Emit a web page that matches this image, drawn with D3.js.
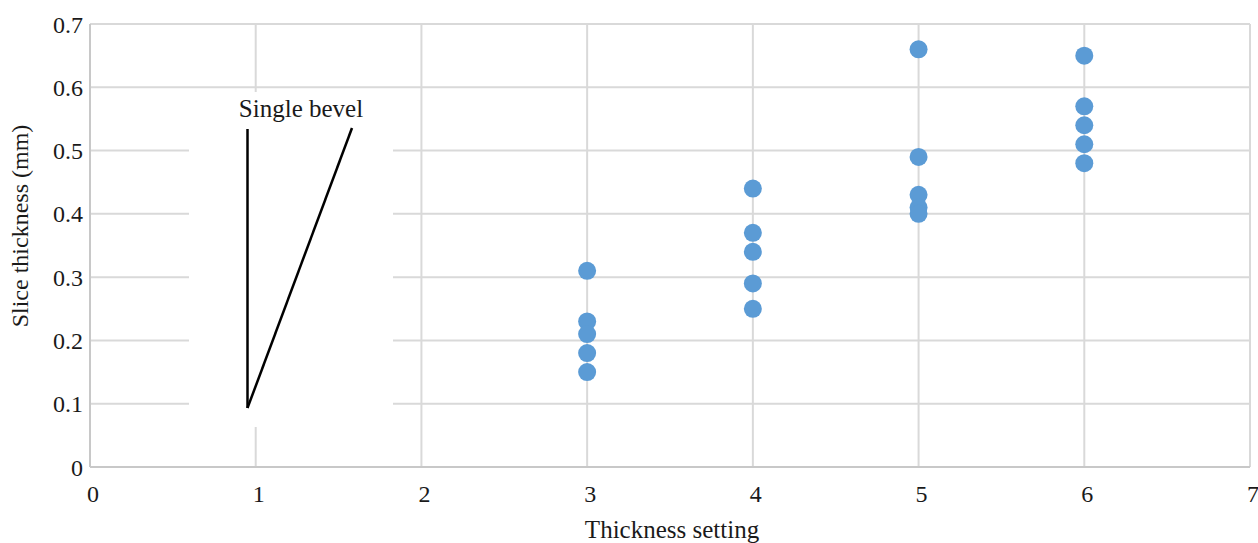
<!DOCTYPE html>
<html>
<head>
<meta charset="utf-8">
<script src="https://cdn.jsdelivr.net/npm/d3@7"></script>
<style>
  body { margin: 0; background: #fff; }
  text { font-family: "Liberation Serif", "Times New Roman", serif; fill: #1a1a1a; }
</style>
</head>
<body>
<div id="chart"></div>
<script>
// thickness settings and the measured slice thickness at each one
var settings = [3, 3, 3, 3, 3, 4, 4, 4, 4, 4, 5, 5, 5, 5, 5, 6, 6, 6, 6, 6];
var thickness = [0.31, 0.23, 0.21, 0.18, 0.15,
                 0.44, 0.37, 0.34, 0.29, 0.25,
                 0.66, 0.49, 0.43, 0.41, 0.40,
                 0.65, 0.57, 0.54, 0.51, 0.48];
var xTicks = [0, 1, 2, 3, 4, 5, 6, 7];
var yTicks = [0, 0.1, 0.2, 0.3, 0.4, 0.5, 0.6, 0.7];

(function() {
  var margin = { top: 24, left: 90, right: 8, bottom: 76 },
    width = 1258 - margin.left - margin.right,
    height = 543 - margin.top - margin.bottom;

  var svg = d3.select("#chart")
    .append("svg")
    .attr("width", 1258)
    .attr("height", 543)
    .append("g")
    .attr("transform", "translate(" + margin.left + "," + margin.top + ")");

  var xPositionScale = d3.scaleLinear().domain([0, 7]).range([0, width]);
  var yPositionScale = d3.scaleLinear().domain([0, 0.7]).range([height, 0]);

  var points = settings.map(function(s, i) { return { x: s, y: thickness[i] }; });

  // gridlines
  svg.selectAll(".hgrid")
    .data(yTicks.slice(1))
    .enter().append("line")
    .attr("x1", 0).attr("x2", width)
    .attr("y1", function(d) { return yPositionScale(d); })
    .attr("y2", function(d) { return yPositionScale(d); })
    .attr("stroke", "#d9d9d9").attr("stroke-width", 2);

  svg.selectAll(".vgrid")
    .data(xTicks.slice(1))
    .enter().append("line")
    .attr("y1", 0).attr("y2", height)
    .attr("x1", function(d) { return xPositionScale(d); })
    .attr("x2", function(d) { return xPositionScale(d); })
    .attr("stroke", "#d9d9d9").attr("stroke-width", 2);

  // axes lines
  svg.append("line")
    .attr("x1", 0).attr("x2", width).attr("y1", height).attr("y2", height)
    .attr("stroke", "#c8c8c8").attr("stroke-width", 2);
  svg.append("line")
    .attr("x1", 0).attr("x2", 0).attr("y1", 0).attr("y2", height)
    .attr("stroke", "#c8c8c8").attr("stroke-width", 2);

  // tick labels
  svg.selectAll(".xlabel")
    .data(xTicks)
    .enter().append("text")
    .attr("x", function(d) { return xPositionScale(d) + 3; })
    .attr("y", height + 35)
    .attr("text-anchor", "middle")
    .attr("font-size", "24px")
    .text(function(d) { return d; });

  svg.selectAll(".ylabel")
    .data(yTicks)
    .enter().append("text")
    .attr("x", -7)
    .attr("y", function(d) { return yPositionScale(d) + 8.5; })
    .attr("text-anchor", "end")
    .attr("font-size", "24px")
    .text(function(d) { return d === 0 ? "0" : d3.format(".1f")(d); });

  // inset covering part of the grid
  var inset = svg.append("g");
  inset.append("rect")
    .attr("x", 99).attr("y", 68)
    .attr("width", 204).attr("height", 335)
    .attr("fill", "#fff");
  inset.append("line")
    .attr("x1", 157.5).attr("y1", 105).attr("x2", 157.5).attr("y2", 384)
    .attr("stroke", "#000").attr("stroke-width", 2.5);
  inset.append("line")
    .attr("x1", 157.5).attr("y1", 384).attr("x2", 262).attr("y2", 104)
    .attr("stroke", "#000").attr("stroke-width", 2.5);
  inset.append("text")
    .attr("x", 211).attr("y", 93)
    .attr("text-anchor", "middle")
    .attr("font-size", "25px")
    .text("Single bevel");

  // points
  svg.selectAll(".dot")
    .data(points)
    .enter().append("circle")
    .attr("class", "dot")
    .attr("cx", function(d) { return xPositionScale(d.x); })
    .attr("cy", function(d) { return yPositionScale(d.y); })
    .attr("r", 9)
    .attr("fill", "#5b9bd5");

  // axis titles
  svg.append("text")
    .attr("x", width / 2 + 2)
    .attr("y", height + 71)
    .attr("text-anchor", "middle")
    .attr("font-size", "25px")
    .text("Thickness setting");

  svg.append("text")
    .attr("transform", "rotate(-90)")
    .attr("x", -202)
    .attr("y", -62)
    .attr("text-anchor", "middle")
    .attr("font-size", "24px")
    .text("Slice thickness (mm)");
})();
</script>
</body>
</html>
